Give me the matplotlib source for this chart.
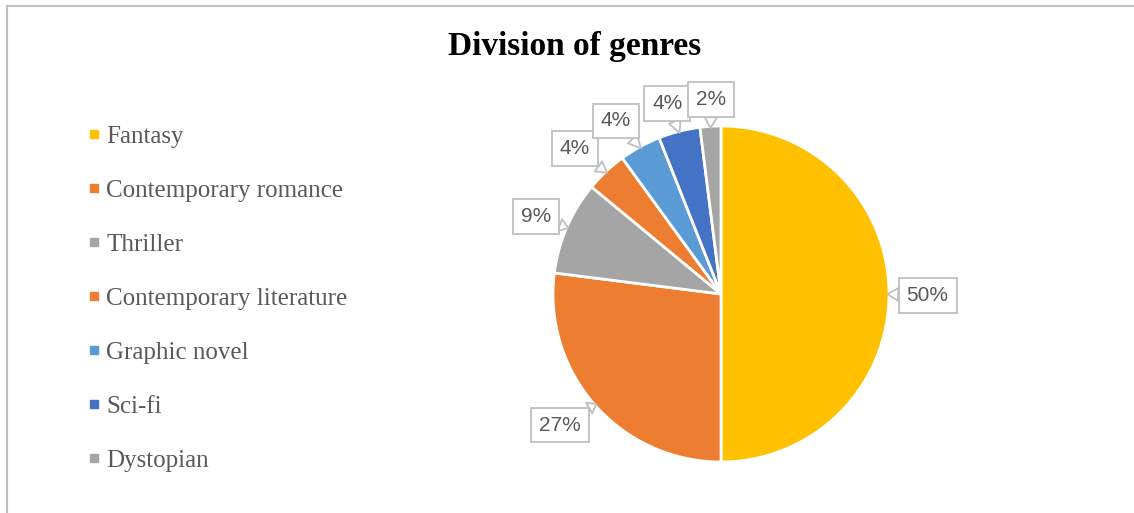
import matplotlib.pyplot as plt
from matplotlib.lines import Line2D
import numpy as np

# datos del grafico
genres = ['Fantasy', 'Contemporary romance', 'Thriller', 'Contemporary literature',
          'Graphic novel', 'Sci-fi', 'Dystopian']
shares = [50, 27, 9, 4, 4, 4, 2]
colors = ['#FFC000', '#ED7D31', '#A5A5A5', '#ED7D31', '#5B9BD5', '#4472C4', '#A5A5A5']
# posicion de cada etiqueta (en unidades del radio)
label_pos = [(1.23, -0.01), (-0.96, -0.78), (-1.10, 0.46), (-0.87, 0.865),
             (-0.625, 1.03), (-0.32, 1.135), (-0.06, 1.16)]

W, H = 1134, 513
fig = plt.figure(figsize=(W / 100, H / 100), dpi=100)

# borde del grafico (arriba e izquierda)
fig.add_artist(Line2D([7 / W, 7 / W], [0, 1 - 5.5 / H], transform=fig.transFigure,
                      color='#BFBFBF', lw=1.5))
fig.add_artist(Line2D([7 / W, 1], [1 - 5.5 / H, 1 - 5.5 / H], transform=fig.transFigure,
                      color='#BFBFBF', lw=1.5))

fig.text(575 / W, 1 - 46 / H, 'Division of genres', ha='center', va='center',
         fontsize=24, fontweight='bold', family='Liberation Serif', color='black')

cx, cy, r = 721, 294, 168
half = 180
ax = fig.add_axes([(cx - half) / W, (H - cy - half) / H, 2 * half / W, 2 * half / H])
lim = half / r
ax.axis('off')

wedges, _ = ax.pie(shares, colors=colors, startangle=90, counterclock=False, radius=1,
                   wedgeprops=dict(edgecolor='white', linewidth=2))
ax.set_xlim(-lim, lim)
ax.set_ylim(-lim, lim)
ax.set_aspect('equal')

for w, s, (lx, ly) in zip(wedges, shares, label_pos):
    ang = np.deg2rad((w.theta1 + w.theta2) / 2)
    tip = (0.99 * np.cos(ang), 0.99 * np.sin(ang))
    ax.annotate(f'{s}%', xy=tip, xytext=(lx, ly), ha='center', va='center',
                fontsize=15, family='Liberation Sans', color='#595959',
                bbox=dict(boxstyle='square,pad=0.38', fc='white', ec='#BFBFBF', lw=1.3),
                arrowprops=dict(arrowstyle='wedge,tail_width=0.6', fc='white',
                                ec='#BFBFBF', lw=1.3, shrinkA=0, shrinkB=0),
                annotation_clip=False)

# cuadraditos de la leyenda
handles = [Line2D([], [], marker='s', linestyle='none', markersize=5.5,
                  markerfacecolor=c, markeredgecolor=c) for c in colors]
leg = fig.legend(handles, genres, loc='upper left', bbox_to_anchor=(64 / W, 1 - 103 / H),
                 frameon=False, prop={'family': 'Liberation Serif', 'size': 18},
                 handlelength=0.6, handletextpad=0.2, labelspacing=1.26)
for t in leg.get_texts():
    t.set_color('#595959')

fig.savefig('out.png', dpi=100)
